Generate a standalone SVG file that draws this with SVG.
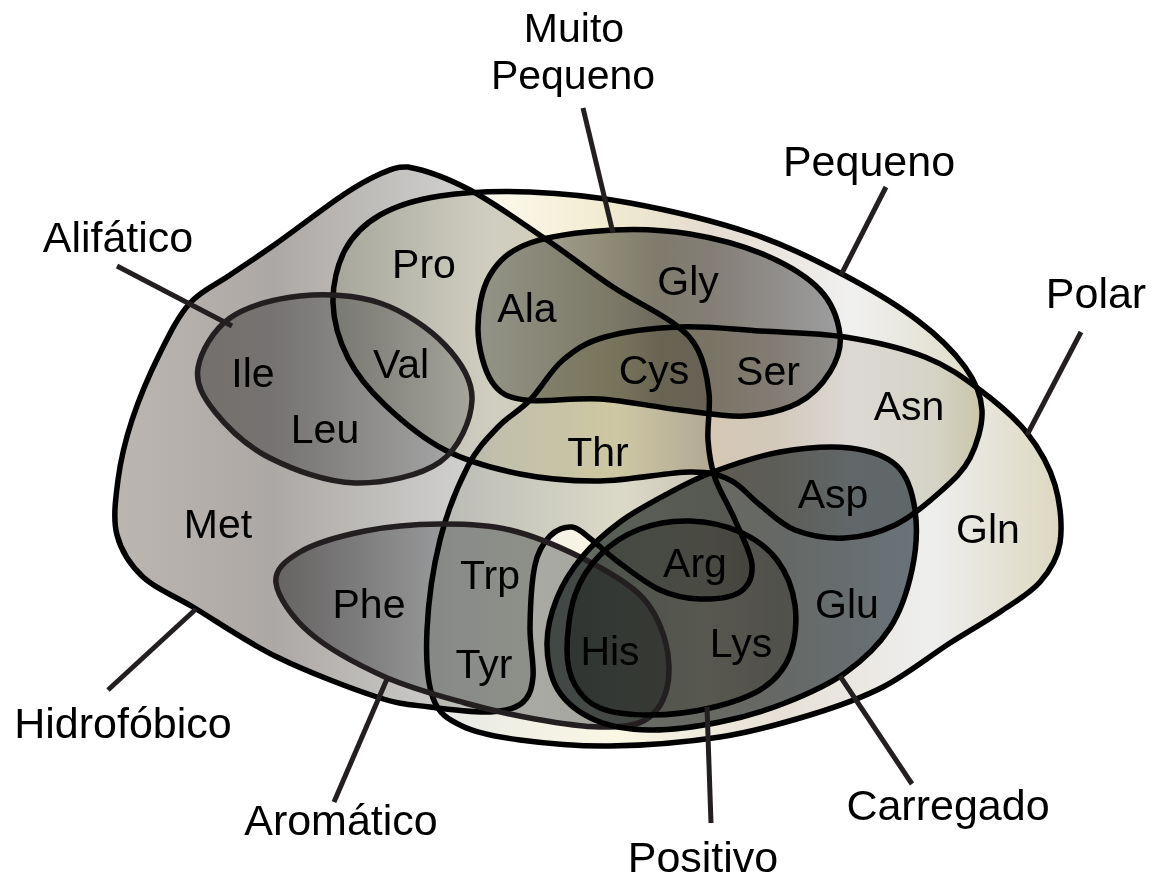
<svg xmlns="http://www.w3.org/2000/svg" width="1153" height="879" viewBox="0 0 1153 879">
<defs>
<style>
.f{mix-blend-mode:multiply;stroke:none}
.o{fill:none;stroke:#000;stroke-width:5.5;stroke-linejoin:round}
.oi{fill:none;stroke:#231f20;stroke-width:5.5;stroke-linejoin:round}
.lead{stroke:#231f20;stroke-width:5;stroke-linecap:butt}
.aa{font-family:"Liberation Sans",Arial,sans-serif;font-size:41px;fill:#000;text-anchor:middle}
.cat{font-family:"Liberation Sans",Arial,sans-serif;font-size:43px;fill:#000;text-anchor:middle}
.cat2{font-family:"Liberation Sans",Arial,sans-serif;font-size:41px;fill:#000;text-anchor:middle}
</style>
<linearGradient id="gH" gradientUnits="userSpaceOnUse" x1="115" y1="0" x2="752" y2="0">
<stop offset="0" stop-color="#bcb6b1"/><stop offset="0.25" stop-color="#aca8a5"/><stop offset="0.55" stop-color="#d0d0ce"/><stop offset="0.8" stop-color="#e0e1e0"/><stop offset="1" stop-color="#d2d2cf"/>
</linearGradient>
<linearGradient id="gP" gradientUnits="userSpaceOnUse" x1="427" y1="0" x2="1060" y2="0">
<stop offset="0" stop-color="#e6e8e4"/><stop offset="0.3" stop-color="#faf7e4"/><stop offset="0.55" stop-color="#e6e0d6"/><stop offset="0.8" stop-color="#eeeeee"/><stop offset="1" stop-color="#dcd8c0"/>
</linearGradient>
<linearGradient id="gS" gradientUnits="userSpaceOnUse" x1="333" y1="0" x2="983" y2="0">
<stop offset="0" stop-color="#e8ebe0"/><stop offset="0.25" stop-color="#fbf9ea"/><stop offset="0.42" stop-color="#f1ebd0"/><stop offset="0.58" stop-color="#e4dbd0"/><stop offset="0.8" stop-color="#f0f0f0"/><stop offset="1" stop-color="#dedbc4"/>
</linearGradient>
<linearGradient id="gT" gradientUnits="userSpaceOnUse" x1="478" y1="0" x2="840" y2="0">
<stop offset="0" stop-color="#b6b8b2"/><stop offset="0.5" stop-color="#8a8a85"/><stop offset="1" stop-color="#a8a9ac"/>
</linearGradient>
<linearGradient id="gA" gradientUnits="userSpaceOnUse" x1="197" y1="0" x2="473" y2="0">
<stop offset="0" stop-color="#a2a2a2"/><stop offset="1" stop-color="#d0d1d3"/>
</linearGradient>
<linearGradient id="gR" gradientUnits="userSpaceOnUse" x1="276" y1="0" x2="668" y2="0">
<stop offset="0" stop-color="#969698"/><stop offset="0.4" stop-color="#bcbec1"/><stop offset="1" stop-color="#a4a7a9"/>
</linearGradient>
<linearGradient id="gC" gradientUnits="userSpaceOnUse" x1="547" y1="0" x2="917" y2="0">
<stop offset="0" stop-color="#636c6c"/><stop offset="0.5" stop-color="#707474"/><stop offset="1" stop-color="#717c84"/>
</linearGradient>
<linearGradient id="gQ" gradientUnits="userSpaceOnUse" x1="567" y1="0" x2="795" y2="0">
<stop offset="0" stop-color="#b8bcbc"/><stop offset="0.6" stop-color="#d8d4cc"/><stop offset="1" stop-color="#c8c4bc"/>
</linearGradient>
<path id="pH" d="M408,167 C423,169.7 446.8,177.8 470,190 C493.2,202.2 523.2,223.8 547,240 C570.8,256.2 592,273.2 613,287 C634,300.8 658.8,312.5 673,323 C687.2,333.5 692,338.3 698,350 C704,361.7 707.3,378 709,393 C710.7,408 707,425.8 708,440 C709,454.2 710.5,464.7 715,478 C719.5,491.3 728.8,505.5 735,520 C741.2,534.5 751.2,553 752,565 C752.8,577 748.7,586.3 740,592 C731.3,597.7 713.3,599.3 700,599 C686.7,598.7 673.8,596.3 660,590 C646.2,583.7 628.3,569.3 617,561 C605.7,552.7 599.5,545.7 592,540 C584.5,534.3 579,527.7 572,527 C565,526.3 556.2,529.7 550,536 C543.8,542.3 538.3,549.8 535,565 C531.7,580.2 530.3,608.3 530,627 C529.7,645.7 534.3,664.3 533,677 C531.7,689.7 529.2,697.2 522,703 C514.8,708.8 505.3,711.3 490,712 C474.7,712.7 448.8,709.5 430,707 C411.2,704.5 402.5,705.3 377,697 C351.5,688.7 307.7,672 277,657 C246.3,642 215.3,620.3 193,607 C170.7,593.7 155.7,589 143,577 C130.3,565 121.2,551.2 117,535 C112.8,518.8 115.5,499.2 118,480 C120.5,460.8 125,441.2 132,420 C139,398.8 150.3,372.5 160,353 C169.7,333.5 178.3,316 190,303 C201.7,290 215.5,285 230,275 C244.5,265 258.2,256.3 277,243 C295.8,229.7 325.8,206.5 343,195 C360.2,183.5 369.2,178.7 380,174 C390.8,169.3 397,166.3 408,167 Z"/>
<path id="pP" d="M530,400 C540.8,388.8 550.5,370.5 563,360 C575.5,349.5 585.5,342.5 605,337 C624.5,331.5 654.2,328 680,327 C705.8,326 732.5,329.3 760,331 C787.5,332.7 817.5,332.7 845,337 C872.5,341.3 902.5,348.2 925,357 C947.5,365.8 963,377.3 980,390 C997,402.7 1014.5,417.2 1027,433 C1039.5,448.8 1049.5,466.7 1055,485 C1060.5,503.3 1062.5,526.8 1060,543 C1057.5,559.2 1050,570.5 1040,582 C1030,593.5 1015,601.8 1000,612 C985,622.2 969.5,630.5 950,643 C930.5,655.5 906.3,675 883,687 C859.7,699 837.2,706.7 810,715 C782.8,723.3 753.3,731.8 720,737 C686.7,742.2 643.3,745.5 610,746 C576.7,746.5 544.7,743.3 520,740 C495.3,736.7 476.5,733 462,726 C447.5,719 438.8,714 433,698 C427.2,682 425.8,656.3 427,630 C428.2,603.7 433.2,567.3 440,540 C446.8,512.7 458.3,484.8 468,466 C477.7,447.2 487.7,438 498,427 C508.3,416 519.2,411.2 530,400 Z"/>
<path id="pS" d="M333,303 C332.5,285 337.2,264.7 345,250 C352.8,235.3 364.2,224 380,215 C395.8,206 415,199.8 440,196 C465,192.2 498.3,190.8 530,192 C561.7,193.2 593.3,196.2 630,203 C666.7,209.8 715,221.3 750,233 C785,244.7 812.2,258.5 840,273 C867.8,287.5 896.2,304.3 917,320 C937.8,335.7 954.2,352 965,367 C975.8,382 981.2,394.8 982,410 C982.8,425.2 977,444.3 970,458 C963,471.7 952.5,480.8 940,492 C927.5,503.2 910.8,517.3 895,525 C879.2,532.7 861.7,537.2 845,538 C828.3,538.8 809.2,535.5 795,530 C780.8,524.5 770.8,513.3 760,505 C749.2,496.7 741.7,485.5 730,480 C718.3,474.5 711.7,471.8 690,472 C668.3,472.2 628.3,480.7 600,481 C571.7,481.3 545.8,479.2 520,474 C494.2,468.8 467.5,461.5 445,450 C422.5,438.5 401.2,420.3 385,405 C368.8,389.7 356.7,375 348,358 C339.3,341 333.5,321 333,303 Z"/>
<path id="pT" d="M478,330 C477.7,312.2 481.3,289.5 490,275 C498.7,260.5 509.5,250.5 530,243 C550.5,235.5 586.3,231.5 613,230 C639.7,228.5 664.7,229.8 690,234 C715.3,238.2 743.3,245.7 765,255 C786.7,264.3 807.5,276.7 820,290 C832.5,303.3 838.3,321.3 840,335 C841.7,348.7 837,360.7 830,372 C823,383.3 812.2,395.7 798,403 C783.8,410.3 764.7,414.8 745,416 C725.3,417.2 704.2,412.8 680,410 C655.8,407.2 625.8,400.7 600,399 C574.2,397.3 543,402.8 525,400 C507,397.2 499.8,393.7 492,382 C484.2,370.3 478.3,347.8 478,330 Z"/>
<path id="pA" d="M198,368 C200.5,352.3 213,330 230,318 C247,306 275,298.5 300,296 C325,293.5 355.8,294.8 380,303 C404.2,311.2 429.7,328.8 445,345 C460.3,361.2 472.8,380.5 472,400 C471.2,419.5 459.5,448.2 440,462 C420.5,475.8 383.3,483.7 355,483 C326.7,482.3 293.3,469.8 270,458 C246.7,446.2 227,427 215,412 C203,397 195.5,383.7 198,368 Z"/>
<path id="pR" d="M276,583 C274.3,569.5 285.2,560.7 300,552 C314.8,543.3 341.7,535.7 365,531 C388.3,526.3 415.8,524.2 440,524 C464.2,523.8 486.7,524.5 510,530 C533.3,535.5 558.3,546.2 580,557 C601.7,567.8 625.8,581.2 640,595 C654.2,608.8 660.5,624.5 665,640 C669.5,655.5 670.3,674.7 667,688 C663.7,701.3 656.2,713.5 645,720 C633.8,726.5 618.3,727.2 600,727 C581.7,726.8 557.5,723 535,719 C512.5,715 490,710 465,703 C440,696 411.8,688.7 385,677 C359.2,665.3 328.2,648.7 310,633 C291.8,617.3 277.7,596.5 276,583 Z"/>
<path id="pC" d="M713,472 C732.2,464.8 757.2,456 780,452 C802.8,448 830.5,445.7 850,448 C869.5,450.3 886.2,455.7 897,466 C907.8,476.3 912.5,492.7 915,510 C917.5,527.3 916.2,550.3 912,570 C907.8,589.7 901.2,610.8 890,628 C878.8,645.2 862.5,660.5 845,673 C827.5,685.5 805.8,694.8 785,703 C764.2,711.2 742.5,717.5 720,722 C697.5,726.5 670.8,730.3 650,730 C629.2,729.7 610.3,726.7 595,720 C579.7,713.3 566,702.8 558,690 C550,677.2 546.8,658.3 547,643 C547.2,627.7 551.2,612.3 557,598 C562.8,583.7 571.5,569.7 582,557 C592.5,544.3 606.2,532.3 620,522 C633.8,511.7 649.5,503.3 665,495 C680.5,486.7 693.8,479.2 713,472 Z"/>
<path id="pQ" d="M567,650 C567,635 569.5,610.8 575,595 C580.5,579.2 589.2,566 600,555 C610.8,544 625,534.7 640,529 C655,523.3 673.3,520.5 690,521 C706.7,521.5 725.5,525.5 740,532 C754.5,538.5 767.8,547.8 777,560 C786.2,572.2 792.8,589.2 795,605 C797.2,620.8 795.3,641.2 790,655 C784.7,668.8 776.3,679.2 763,688 C749.7,696.8 728.8,703.5 710,708 C691.2,712.5 668.3,715 650,715 C631.7,715 612.5,713 600,708 C587.5,703 580.5,694.7 575,685 C569.5,675.3 567,665 567,650 Z"/>
</defs>
<rect width="1153" height="879" fill="#fff"/>
<g id="fills">
<use href="#pH" class="f" fill="url(#gH)"/>
<use href="#pP" class="f" fill="url(#gP)"/>
<use href="#pS" class="f" fill="url(#gS)"/>
<use href="#pT" class="f" fill="url(#gT)"/>
<use href="#pA" class="f" fill="url(#gA)"/>
<use href="#pR" class="f" fill="url(#gR)"/>
<use href="#pC" class="f" fill="url(#gC)"/>
<use href="#pQ" class="f" fill="url(#gQ)"/>
</g>
<g id="hidrofobico"><use href="#pH" class="o"/></g>
<g id="polar"><use href="#pP" class="o"/></g>
<g id="pequeno"><use href="#pS" class="o"/></g>
<g id="muito-pequeno"><use href="#pT" class="o"/></g>
<g id="alifatico"><use href="#pA" class="oi"/></g>
<g id="aromatico"><use href="#pR" class="oi"/></g>
<g id="carregado"><use href="#pC" class="o"/></g>
<g id="positivo"><use href="#pQ" class="o"/></g>
<g id="connectors">
<line class="lead" x1="583" y1="108" x2="613" y2="233"/>
<line class="lead" x1="886" y1="187" x2="841" y2="275"/>
<line class="lead" x1="117" y1="266" x2="232" y2="326"/>
<line class="lead" x1="1081" y1="332" x2="1027" y2="435"/>
<line class="lead" x1="108" y1="690" x2="196" y2="609"/>
<line class="lead" x1="334" y1="802" x2="387" y2="679"/>
<line class="lead" x1="707" y1="707" x2="711" y2="823"/>
<line class="lead" x1="840" y1="676" x2="912" y2="784"/>
</g>
<g id="aminoacidos">
<text class="aa" x="424" y="278">Pro</text>
<text class="aa" x="527" y="322">Ala</text>
<text class="aa" x="688" y="295">Gly</text>
<text class="aa" x="253" y="387">Ile</text>
<text class="aa" x="401" y="378">Val</text>
<text class="aa" x="325" y="443">Leu</text>
<text class="aa" x="654" y="384">Cys</text>
<text class="aa" x="768" y="385">Ser</text>
<text class="aa" x="909" y="420">Asn</text>
<text class="aa" x="598" y="466">Thr</text>
<text class="aa" x="833" y="508">Asp</text>
<text class="aa" x="218" y="538">Met</text>
<text class="aa" x="988" y="543">Gln</text>
<text class="aa" x="695" y="577">Arg</text>
<text class="aa" x="490" y="589">Trp</text>
<text class="aa" x="369" y="618">Phe</text>
<text class="aa" x="847" y="618">Glu</text>
<text class="aa" x="610" y="665">His</text>
<text class="aa" x="741" y="657">Lys</text>
<text class="aa" x="484" y="678">Tyr</text>
</g>
<g id="rotulos">
<text class="cat2" x="574" y="42">Muito</text>
<text class="cat2" x="573" y="89">Pequeno</text>
<text class="cat" x="869" y="176">Pequeno</text>
<text class="cat" x="118" y="252">Alifático</text>
<text class="cat" x="1096" y="308">Polar</text>
<text class="cat" x="123" y="738">Hidrofóbico</text>
<text class="cat" x="341" y="835">Aromático</text>
<text class="cat" x="703" y="872">Positivo</text>
<text class="cat" x="948" y="820">Carregado</text>
</g>
</svg>
